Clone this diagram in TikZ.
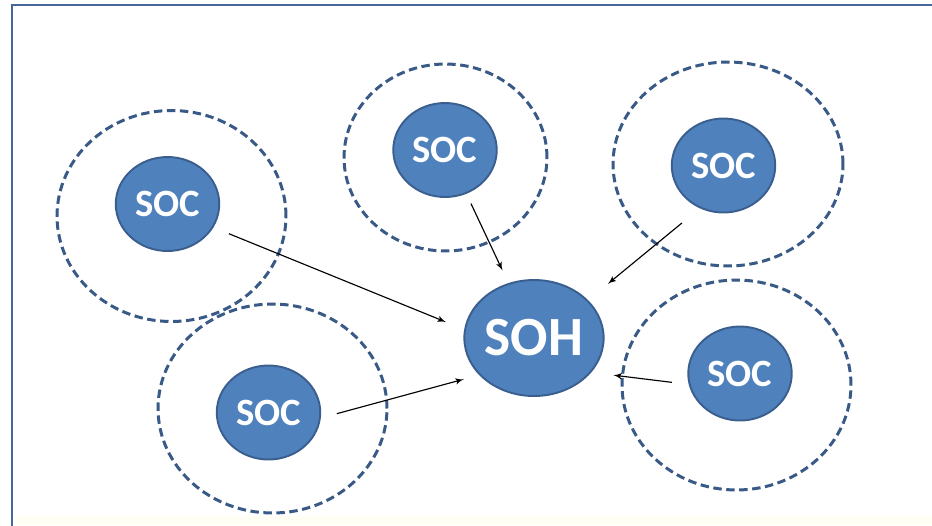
\documentclass[tikz,border=0pt]{standalone}
\usepackage{fontspec}
\setmainfont{Carlito}
\usetikzlibrary{shapes,arrows}
\definecolor{socfill}{HTML}{4F81BD}
\definecolor{socdraw}{HTML}{3A5F8E}
\definecolor{zonedraw}{HTML}{395986}
\definecolor{framecol}{HTML}{46679A}
\definecolor{cream}{HTML}{FEFEF5}
\tikzstyle{soc} = [ellipse, draw=socdraw, line width=1.1pt, fill=socfill, text=white, font=\bfseries\fontsize{22}{22}\selectfont, minimum width=2.07cm, minimum height=1.88cm, inner sep=0pt]
\tikzstyle{soh} = [soc, font=\bfseries\fontsize{31.5}{31.5}\selectfont, minimum width=2.56cm, minimum height=2.32cm]
\tikzstyle{zone} = [ellipse, draw=zonedraw, line width=1.7pt, dash pattern=on 4.8pt off 2.6pt]
\tikzstyle{line} = [draw, -latex', line width=0.65pt]
\begin{document}
\begin{tikzpicture}[x=0.02cm, y=-0.02cm]
    \useasboundingbox (0,0) rectangle (932,525);
    \fill[cream] (14,516) rectangle (932,525);
    \draw[framecol, line width=1.4pt] (12,530) -- (12,5) -- (940,5);

    % Place nodes
    \node [zone, minimum width=4.58cm, minimum height=4.22cm] (zone1) at (171.5,216) {};
    \node [zone, minimum width=4.06cm, minimum height=3.74cm] (zone2) at (445.5,157.5) {};
    \node [zone, minimum width=4.60cm, minimum height=4.08cm] (zone3) at (728,164) {};
    \node [zone, minimum width=4.58cm, minimum height=4.18cm] (zone4) at (272.5,408.5) {};
    \node [zone, minimum width=4.58cm, minimum height=4.20cm] (zone5) at (736.5,385) {};
    \node [soc] (soc1) at (167.5,204) {SOC};
    \node [soc] (soc2) at (445,150) {SOC};
    \node [soc] (soc3) at (723.5,165.5) {SOC};
    \node [soc] (soc4) at (268.5,412.5) {SOC};
    \node [soc] (soc5) at (740,373.5) {SOC};
    \node [soh] (soh) at (534,338) {SOH};

    % Draw edges
    \path [line, shorten <=9.5pt, shorten >=11.2pt] (soc1.-27.5) -- (soh.173);
    \path [line, shorten <=6.1pt, shorten >=7.9pt] (soc2.-64.7) -- (soh.115.2);
    \path [line, shorten <=13.1pt, shorten >=14.6pt] (soc3.241.1) -- (soh.35.7);
    \path [line, shorten <=9.4pt, shorten >=9pt] (soc4.-6.3) -- (soh.214.5);
    \path [line, shorten <=9.6pt, shorten >=12.6pt] (soc5.192.2) -- (soh.-31.4);
\end{tikzpicture}
\end{document}
